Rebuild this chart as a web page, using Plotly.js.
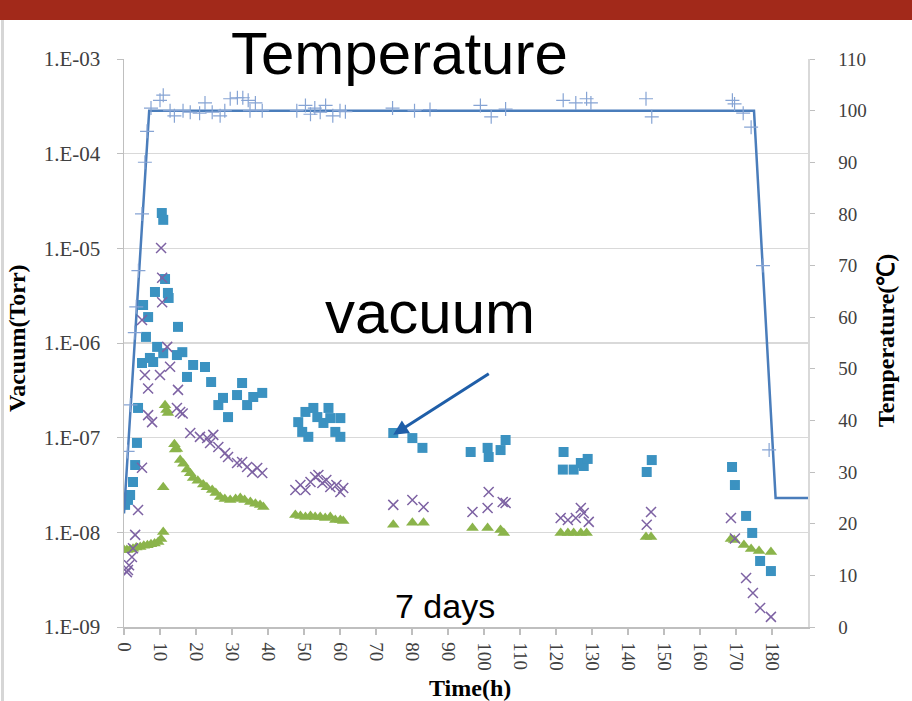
<!DOCTYPE html>
<html><head><meta charset="utf-8">
<script src="https://cdn.plot.ly/plotly-3.0.1.min.js"></script>
<style>
html,body{margin:0;padding:0;background:#fff;}
#bar{position:absolute;left:0;top:0;width:912px;height:20px;background:#a2291a;z-index:5}
#edge{position:absolute;left:1px;top:20px;width:3px;height:681px;background:#d6d6d6;z-index:5}
#chart{position:absolute;left:0;top:0;width:912px;height:701px}
</style>
</head><body>
<div id="chart"></div><div id="bar"></div><div id="edge"></div>
<script>
// Temperature set profile (line, right axis)
var setT = [0, 7, 175, 181, 190];
var setV = [22, 100, 100, 25, 25];
// Measured temperature (+ markers, right axis)
var tempT = [1.0, 1.8, 3.0, 3.4, 4.0, 5.0, 5.8, 6.4, 7.5, 10, 10.9, 12.8, 14, 16.4, 18.4, 21, 22.5, 24.5, 26.7, 28, 29.5, 31.5, 33, 34.5, 35, 36.5, 38.4,
  48, 50.4, 51.8, 53, 54.5, 56, 58, 60, 61.5, 74.6, 80.7, 85, 99, 102, 106, 122, 125.5, 128.5, 129.7, 145, 146.6, 169, 169.6, 172, 174.2, 177.5, 179.2];
var tempV = [34, 43, 57, 62, 69, 80, 90, 96, 100.5, 102, 103, 100, 99, 100, 99.7, 99.5, 101.5, 99.7, 99, 100, 102.3, 102.5, 102.5, 102, 100, 101.5, 100,
  100, 101, 99.3, 100.5, 99.7, 101, 99, 100, 99.8, 100.5, 100, 100.2, 101, 98.8, 100.3, 102, 101.5, 102.3, 101.5, 102.3, 98.8, 102, 101.3, 99.5, 96.8, 70, 34.3];
// Vacuum gauge 1 (squares)
var sqT = [0.3, 1.1, 1.7, 2.5, 3.1, 3.6, 3.9, 5.0, 5.3, 6.1, 6.7, 7.2, 8.1, 8.6, 9.2, 10.5, 10.9, 10.9, 11.4, 12.2, 12.4, 14.7, 15.0, 16.2, 17.5, 19.2, 22.5, 24.2, 26.2, 27.5, 28.9, 31.4, 32.8, 34.2, 35.9, 38.4,
  48.4, 49.5, 50.4, 51.2, 52.6, 53.7, 55.4, 56.8, 57.3, 58.7, 60.1, 60.1, 74.8, 80.1, 82.9, 96.3, 101.0, 101.3, 104.6, 106.0,
  122.1, 121.9, 124.9, 126.9, 127.7, 128.8, 145.2, 146.6, 168.9, 169.7, 172.8, 174.5, 176.7, 179.7];
var sqV = [1.95e-8, 2.2e-8, 2.48e-8, 3.4e-8, 5.14e-8, 8.8e-8, 2.06e-7, 6.15e-7, 2.52e-6, 1.16e-6, 1.88e-6, 6.95e-7, 6.3e-7, 3.46e-6, 9.1e-7, 2.36e-5, 2.0e-5, 7.8e-7, 4.74e-6, 3.38e-6, 2.99e-6, 7.46e-7, 1.48e-6, 8.0e-7, 4.38e-7, 5.86e-7, 5.58e-7, 3.87e-7, 2.21e-7, 2.63e-7, 1.65e-7, 2.82e-7, 3.78e-7, 2.21e-7, 2.69e-7, 2.97e-7,
  1.46e-7, 1.15e-7, 1.87e-7, 1.02e-7, 2.06e-7, 1.65e-7, 1.43e-7, 2.06e-7, 1.61e-7, 1.15e-7, 1.61e-7, 1.02e-7, 1.12e-7, 9.9e-8, 7.8e-8, 7.06e-8, 7.8e-8, 6.25e-8, 7.4e-8, 9.45e-8,
  7.06e-8, 4.6e-8, 4.6e-8, 5.4e-8, 5.02e-8, 5.96e-8, 4.34e-8, 5.8e-8, 4.9e-8, 3.16e-8, 1.49e-8, 9.85e-9, 4.98e-9, 3.9e-9];
// Vacuum gauge 2 (x markers)
var xT = [0.8, 1.1, 1.4, 2.2, 2.5, 3.1, 3.9, 5.0, 5.0, 5.8, 6.7, 6.7, 7.8, 10.0, 10.3, 10.6, 10.6, 12.0, 12.8, 15.0, 14.7, 15.6, 16.3, 18.4, 21.1, 23.1, 24.8, 23.9, 26.2, 28.1, 28.9, 31.4, 32.8, 34.2, 35.6, 37.0, 38.4,
  47.6, 49.0, 50.4, 51.8, 53.1, 54.0, 55.1, 56.2, 57.3, 59.0, 60.1, 60.9, 74.8, 80.1, 83.2, 96.8, 101.0, 101.3, 105.2, 106.0,
  121.3, 123.3, 125.5, 126.9, 127.7, 129.1, 145.2, 146.4, 168.6, 169.7, 172.8, 174.7, 176.7, 179.7];
var xV = [3.8e-9, 4.0e-9, 4.5e-9, 5.5e-9, 6.8e-9, 9.4e-9, 1.72e-8, 4.8e-8, 1.75e-6, 4.6e-7, 3.3e-7, 1.73e-7, 1.46e-7, 4.6e-7, 1.01e-5, 4.9e-6, 2.7e-6, 9.1e-7, 5.6e-7, 3.2e-7, 2.06e-7, 1.87e-7, 1.8e-7, 1.12e-7, 1.02e-7, 9.9e-8, 1.07e-7, 8.8e-8, 7.98e-8, 6.9e-8, 6.25e-8, 5.4e-8, 5.53e-8, 4.9e-8, 4.34e-8, 4.79e-8, 4.24e-8,
  2.8e-8, 3.16e-8, 2.8e-8, 3.4e-8, 3.85e-8, 4.04e-8, 3.32e-8, 3.57e-8, 3.01e-8, 3.16e-8, 2.67e-8, 2.94e-8, 1.95e-8, 2.2e-8, 1.85e-8, 1.64e-8, 1.81e-8, 2.67e-8, 2.09e-8, 2.04e-8,
  1.42e-8, 1.35e-8, 1.42e-8, 1.81e-8, 1.6e-8, 1.29e-8, 1.2e-8, 1.64e-8, 1.42e-8, 8.6e-9, 3.3e-9, 2.29e-9, 1.59e-9, 1.28e-9];
// Vacuum gauge 3 (triangles)
var trT = [0, 0.8, 1.7, 2.5, 3.4, 4.5, 5.5, 6.5, 7.5, 8.5, 9.5, 10.3, 10.9, 10.9, 11.4, 11.8, 12.2, 14.0, 14.2, 14.7, 15.6, 16.5, 17.5, 18.4, 19.2, 20.5, 22.0, 23.0, 24.5, 25.5, 26.7, 28.0, 29.5, 31.0, 32.3, 33.5, 35.1, 36.5, 37.8, 38.7,
  47.6, 49.0, 50.4, 51.8, 53.1, 54.5, 55.9, 57.3, 58.7, 60.1, 60.9, 74.8, 80.1, 83.2, 96.8, 101.0, 104.6, 105.5,
  121.3, 123.3, 124.9, 126.9, 128.5, 145.0, 146.4, 168.6, 169.5, 172.2, 174.2, 176.4, 179.7];
var trV = [6.5e-9, 6.5e-9, 6.6e-9, 6.7e-9, 6.9e-9, 7.0e-9, 7.2e-9, 7.3e-9, 7.5e-9, 7.6e-9, 7.9e-9, 8.5e-9, 1.01e-8, 3.0e-8, 2.2e-7, 1.96e-7, 1.82e-7, 8.5e-8, 7.5e-8, 7.6e-8, 5.8e-8, 5.3e-8, 4.6e-8, 4.2e-8, 3.75e-8, 3.5e-8, 3.2e-8, 3.0e-8, 2.8e-8, 2.6e-8, 2.36e-8, 2.25e-8, 2.2e-8, 2.25e-8, 2.31e-8, 2.2e-8, 2.09e-8, 2.0e-8, 1.95e-8, 1.85e-8,
  1.52e-8, 1.49e-8, 1.45e-8, 1.49e-8, 1.45e-8, 1.45e-8, 1.42e-8, 1.45e-8, 1.35e-8, 1.35e-8, 1.32e-8, 1.2e-8, 1.26e-8, 1.26e-8, 1.11e-8, 1.11e-8, 1.06e-8, 9.85e-9,
  9.85e-9, 9.85e-9, 9.85e-9, 9.85e-9, 9.85e-9, 8.9e-9, 8.9e-9, 8.5e-9, 8.3e-9, 7.35e-9, 6.67e-9, 6.36e-9, 6.2e-9];
// Tick labels
var xTicks = [0,10,20,30,40,50,60,70,80,90,100,110,120,130,140,150,160,170,180];
var yTickVals = [1e-9,1e-8,1e-7,1e-6,1e-5,1e-4,1e-3];
var yTickText = ["1.E-09","1.E-08","1.E-07","1.E-06","1.E-05","1.E-04","1.E-03"];
var y2Ticks = [0,10,20,30,40,50,60,70,80,90,100,110];

var serif = "Liberation Serif, Times New Roman, serif";
var sans = "Liberation Sans, Arial, sans-serif";

var traces = [
  {x: sqT, y: sqV, type: 'scatter', mode: 'markers', xaxis: 'x', yaxis: 'y',
   marker: {symbol: 'square', size: 10, color: '#3b92c1', line: {width: 0}}},
  {x: trT, y: trV, type: 'scatter', mode: 'markers', xaxis: 'x', yaxis: 'y',
   marker: {symbol: 'triangle-up', size: 11, color: '#8bb44b', line: {width: 0}}},
  {x: xT, y: xV, type: 'scatter', mode: 'markers', xaxis: 'x', yaxis: 'y',
   marker: {symbol: 'x-thin', size: 10, color: '#7d62a3', line: {width: 1.5, color: '#7d62a3'}}},
  {x: setT, y: setV, type: 'scatter', mode: 'lines', xaxis: 'x', yaxis: 'y2',
   line: {color: '#4a7dbb', width: 2.5}},
  {x: tempT, y: tempV, type: 'scatter', mode: 'markers', xaxis: 'x', yaxis: 'y2',
   marker: {symbol: 'cross-thin', size: 10, color: '#86a4d4', line: {width: 1.2, color: '#86a4d4'}}}
];

var W = 684, H = 568, L = 124, B = 627;
function px(x){ return (x - L) / W; }
function py(y){ return (B - y) / H; }

var layout = {
  width: 912, height: 701,
  margin: {l: 124, r: 104, t: 59, b: 74},
  paper_bgcolor: '#ffffff', plot_bgcolor: '#ffffff',
  showlegend: false,
  xaxis: {range: [0, 190], tickvals: xTicks, ticktext: xTicks.map(String), tickangle: 90,
    showgrid: false, zeroline: false, showline: true, linecolor: '#bfbfbf', linewidth: 1.5,
    ticks: 'outside', ticklen: 6, tickcolor: '#bfbfbf', tickwidth: 1.2, ticklabelstandoff: 4,
    tickfont: {family: serif, size: 19, color: '#404040'}},
  yaxis: {type: 'log', range: [-9, -3], tickvals: yTickVals, ticktext: yTickText,
    showgrid: true, gridcolor: '#d9d9d9', gridwidth: 1.5, zeroline: false,
    showline: true, linecolor: '#bfbfbf', linewidth: 1.5,
    ticks: 'outside', ticklen: 6, tickcolor: '#bfbfbf', ticklabelstandoff: 12,
    tickfont: {family: serif, size: 21, color: '#404040'}},
  yaxis2: {overlaying: 'y', side: 'right', range: [0, 110], tickvals: y2Ticks,
    showgrid: false, zeroline: false, showline: true, linecolor: '#d9d9d9', linewidth: 1.5,
    ticks: 'outside', ticklen: 5, tickcolor: '#bfbfbf', ticklabelstandoff: 20,
    tickfont: {family: serif, size: 19, color: '#404040'}},
  annotations: [
    {xref: 'paper', yref: 'paper', x: px(399), y: py(54), text: 'Temperature', showarrow: false,
     xanchor: 'center', yanchor: 'middle', font: {family: sans, size: 60, color: '#000'}},
    {xref: 'paper', yref: 'paper', x: px(430), y: py(312), text: 'vacuum', showarrow: false,
     xanchor: 'center', yanchor: 'middle', font: {family: sans, size: 60, color: '#000'}},
    {xref: 'paper', yref: 'paper', x: px(445), y: py(606), text: '7 days', showarrow: false,
     xanchor: 'center', yanchor: 'middle', font: {family: sans, size: 34, color: '#000'}},
    {xref: 'x', yref: 'y', x: 74.8, y: -6.97, ax: 97, ay: -62, axref: 'pixel', ayref: 'pixel',
     text: '', showarrow: true, arrowhead: 2, arrowsize: 1, arrowwidth: 3, arrowcolor: '#1f5ea8'},
    {xref: 'paper', yref: 'paper', x: px(17), y: py(338), text: '<b>Vacuum(Torr)</b>', showarrow: false,
     textangle: -90, xanchor: 'center', yanchor: 'middle', font: {family: serif, size: 24, color: '#000'}},
    {xref: 'paper', yref: 'paper', x: px(886), y: py(340), text: '<b>Temperature(℃)</b>', showarrow: false,
     textangle: -90, xanchor: 'center', yanchor: 'middle', font: {family: serif, size: 24, color: '#000'}},
    {xref: 'paper', yref: 'paper', x: px(470), y: py(688), text: '<b>Time(h)</b>', showarrow: false,
     xanchor: 'center', yanchor: 'middle', font: {family: serif, size: 24, color: '#000'}}
  ]
};

Plotly.newPlot('chart', traces, layout, {displayModeBar: false, staticPlot: true});
</script></body></html>
